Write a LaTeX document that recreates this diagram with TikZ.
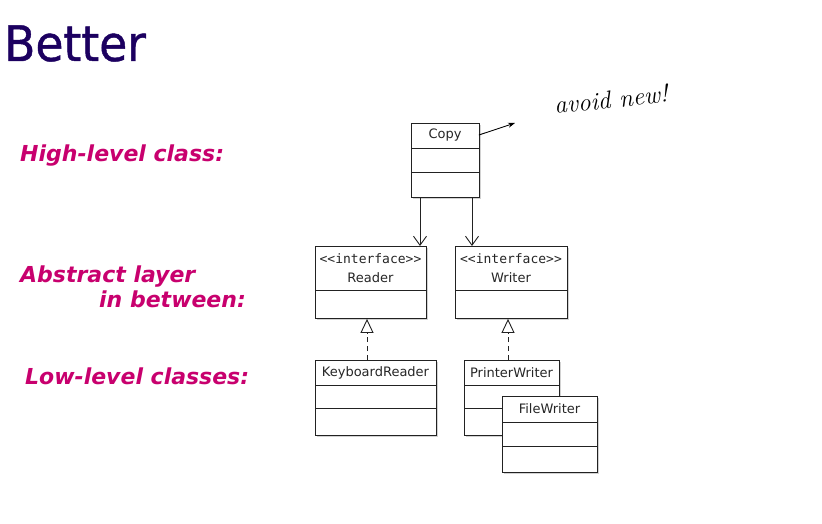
\documentclass[tikz,border=0pt]{standalone}
\usepackage{fontspec}
\setmainfont{DejaVu Sans}
\newfontfamily\monofont{DejaVu Sans Mono}
\newfontfamily\handfont{Latin Modern Roman}
\newfontfamily\titlefont[FakeBold=0.9]{DejaVu Sans}
\usetikzlibrary{arrows.meta,shadows}
\definecolor{titlecol}{HTML}{1C0060}
\definecolor{labelcol}{HTML}{C8006E}
\definecolor{umlline}{HTML}{222222}
\tikzset{
  classbox/.style={draw=umlline, line width=0.9pt, fill=white, anchor=north west,
    inner sep=0pt, drop shadow={shadow xshift=1.6pt, shadow yshift=-1.6pt, opacity=.35, fill=gray}},
  divider/.style={draw=umlline, line width=0.9pt},
  classname/.style={font=\fontsize{13}{15}\selectfont, text=black!85, inner sep=0pt},
  stereo/.style={font=\monofont\fontsize{13}{15}\selectfont, text=black!85, inner sep=0pt},
  layerlabel/.style={font=\fontsize{22}{25}\selectfont\bfseries\itshape, text=labelcol, anchor=base west, inner sep=0pt},
  uses/.style={draw=umlline, line width=0.9pt, -{Straight Barb[length=9pt, width=13pt]}},
  realizes/.style={draw=umlline, line width=0.9pt, dash pattern=on 5pt off 4pt,
    -{Triangle[open, length=14pt, width=13pt, fill=white]}},
  note/.style={draw=black, line width=0.9pt, -{Stealth[length=7pt, width=5pt]}}
}
\begin{document}
\begin{tikzpicture}[x=1pt, y=-1pt]
\useasboundingbox[fill=white] (0,0) rectangle (822,524);

% title
\node[font=\titlefont\fontsize{49}{56}\selectfont, text=titlecol, anchor=base west, inner sep=0pt,
  xscale=0.93, transform shape] (title) at (4,61) {Better};

% layer labels
\node[layerlabel] (lblhigh) at (20,161) {High-level class:};
\node[layerlabel] (lblabs1) at (20,282) {Abstract layer};
\node[layerlabel] (lblabs2) at (99,307) {in between:};
\node[layerlabel] (lbllow) at (25,384) {Low-level classes:};

% high-level class
\node[classbox, minimum width=68, minimum height=74] (copy) at (411,123) {};
\node[classname] (copyname) at (445,135) {Copy};
\coordinate (cd1) at (0,148); \coordinate (cd2) at (0,172);
\draw[divider] (copy.west |- cd1) -- (copy.east |- cd1);
\draw[divider] (copy.west |- cd2) -- (copy.east |- cd2);

% interfaces
\node[classbox, minimum width=111, minimum height=72] (reader) at (315,246) {};
\node[stereo] (readerst) at (370.5,259) {<<interface>>};
\node[classname] (readername) at (370.5,278) {Reader};
\node[classbox, minimum width=112, minimum height=72] (writer) at (455,246) {};
\node[stereo] (writerst) at (511,259) {<<interface>>};
\node[classname] (writername) at (511,278) {Writer};
\coordinate (id1) at (0,290);
\draw[divider] (reader.west |- id1) -- (reader.east |- id1);
\draw[divider] (writer.west |- id1) -- (writer.east |- id1);

% implementations
\node[classbox, minimum width=121, minimum height=75] (kbd) at (315,360) {};
\node[classname] (kbdname) at (375.5,373) {KeyboardReader};
\node[classbox, minimum width=95, minimum height=75] (printer) at (464,360) {};
\node[classname] (printername) at (511.5,373) {PrinterWriter};
\coordinate (ld1) at (0,385); \coordinate (ld2) at (0,408);
\draw[divider] (kbd.west |- ld1) -- (kbd.east |- ld1);
\draw[divider] (kbd.west |- ld2) -- (kbd.east |- ld2);
\draw[divider] (printer.west |- ld1) -- (printer.east |- ld1);
\draw[divider] (printer.west |- ld2) -- (printer.east |- ld2);

\node[classbox, minimum width=95, minimum height=76] (file) at (502,396) {};
\node[classname] (filename) at (549.5,409) {FileWriter};
\coordinate (fd1) at (0,422); \coordinate (fd2) at (0,446);
\draw[divider] (file.west |- fd1) -- (file.east |- fd1);
\draw[divider] (file.west |- fd2) -- (file.east |- fd2);

% dependencies of Copy on the interfaces
\coordinate (ux1) at (420,0); \coordinate (ux2) at (472,0);
\draw[uses] (copy.south -| ux1) -- (reader.north -| ux1);
\draw[uses] (copy.south -| ux2) -- (writer.north -| ux2);

% realizations
\coordinate (rx1) at (367,0); \coordinate (rx2) at (508,0);
\draw[realizes] (kbd.north -| rx1) -- (reader.south -| rx1);
\draw[realizes] (printer.north -| rx2) -- (writer.south -| rx2);

% remark
\node[font=\handfont\itshape\fontsize{25}{28}\selectfont, rotate=6, anchor=base west, inner sep=0pt]
  (remark) at (555,114) {avoid new!};
\coordinate (notetip) at (515,123);
\draw[note] (copy.east |- copyname.east) ++(-1,0) -- (notetip);
\end{tikzpicture}
\end{document}
